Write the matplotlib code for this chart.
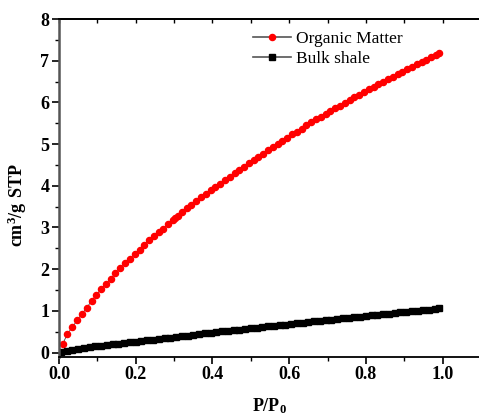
import matplotlib
matplotlib.use('Agg')
import matplotlib.pyplot as plt
from matplotlib.ticker import MultipleLocator

plt.rcParams['font.family'] = ['Liberation Serif', 'DejaVu Serif']
plt.rcParams['mathtext.fontset'] = 'custom'
plt.rcParams['mathtext.rm'] = 'Liberation Serif'
plt.rcParams['mathtext.bf'] = 'Liberation Serif:bold'

# Organic matter isotherm
om_p = [0.010, 0.022, 0.035, 0.047, 0.060, 0.072, 0.085, 0.097, 0.110, 0.122,
        0.135, 0.147, 0.160, 0.172, 0.185, 0.197, 0.210, 0.222, 0.235, 0.247,
        0.260, 0.272, 0.285, 0.297, 0.302, 0.309, 0.320, 0.3325, 0.345, 0.3575,
        0.370, 0.3825, 0.395, 0.4075, 0.420, 0.4325, 0.445, 0.4575, 0.470, 0.4825,
        0.495, 0.5075, 0.520, 0.5325, 0.545, 0.5575, 0.570, 0.5825, 0.595, 0.6075,
        0.620, 0.6325, 0.645, 0.6575, 0.670, 0.6825, 0.695, 0.7075, 0.720, 0.7325,
        0.745, 0.7575, 0.770, 0.7825, 0.795, 0.8075, 0.820, 0.8325, 0.845, 0.8575,
        0.870, 0.8825, 0.895, 0.9075, 0.920, 0.9325, 0.945, 0.9575, 0.970, 0.9825,
        0.990]
om_v = [0.21, 0.45, 0.61, 0.77, 0.93, 1.07, 1.24, 1.38, 1.52, 1.65,
        1.77, 1.90, 2.02, 2.14, 2.25, 2.37, 2.47, 2.58, 2.69, 2.80,
        2.89, 2.97, 3.08, 3.18, 3.23, 3.28, 3.37, 3.46, 3.55, 3.63,
        3.72, 3.80, 3.89, 3.97, 4.05, 4.14, 4.22, 4.30, 4.38, 4.46,
        4.54, 4.62, 4.70, 4.77, 4.85, 4.92, 5.00, 5.08, 5.15, 5.23,
        5.30, 5.37, 5.45, 5.52, 5.59, 5.66, 5.73, 5.79, 5.86, 5.92,
        5.99, 6.05, 6.12, 6.18, 6.25, 6.31, 6.38, 6.44, 6.50, 6.56,
        6.62, 6.68, 6.74, 6.80, 6.85, 6.91, 6.97, 7.02, 7.08, 7.14,
        7.19]

# Bulk shale isotherm
bs_p = [0.005, 0.020, 0.035, 0.050, 0.065, 0.080, 0.095, 0.110, 0.125, 0.140,
        0.155, 0.170, 0.185, 0.200, 0.215, 0.230, 0.245, 0.260, 0.275, 0.290,
        0.305, 0.320, 0.335, 0.350, 0.365, 0.380, 0.395, 0.410, 0.425, 0.440,
        0.455, 0.470, 0.485, 0.500, 0.515, 0.530, 0.545, 0.560, 0.575, 0.590,
        0.605, 0.620, 0.635, 0.650, 0.665, 0.680, 0.695, 0.710, 0.725, 0.740,
        0.755, 0.770, 0.785, 0.800, 0.815, 0.830, 0.845, 0.860, 0.875, 0.890,
        0.905, 0.920, 0.935, 0.950, 0.965, 0.980, 0.990]
bs_v = [0.020, 0.045, 0.065, 0.085, 0.105, 0.125, 0.145, 0.160, 0.180, 0.195,
        0.210, 0.230, 0.245, 0.260, 0.277, 0.293, 0.310, 0.326, 0.343, 0.360,
        0.375, 0.392, 0.408, 0.425, 0.440, 0.458, 0.475, 0.490, 0.505, 0.520,
        0.535, 0.550, 0.565, 0.580, 0.595, 0.610, 0.625, 0.640, 0.655, 0.670,
        0.685, 0.700, 0.715, 0.730, 0.745, 0.760, 0.775, 0.790, 0.804, 0.818,
        0.832, 0.847, 0.861, 0.875, 0.890, 0.904, 0.918, 0.932, 0.947, 0.961,
        0.975, 0.990, 1.004, 1.018, 1.032, 1.047, 1.060]

fig = plt.figure(figsize=(4.79, 4.17), dpi=100)
ax = fig.add_axes([59/479, 60.3/417, 422/479, 337.7/417])

ax.plot(om_p, om_v, '-o', c='#404040', lw=0.6, mfc='red', mec='red', ms=4.4,
        label='Organic Matter')
ax.plot(bs_p, bs_v, '-s', c='#202020', lw=0.6, mfc='black', mec='black', ms=3.8,
        label='Bulk shale')

ax.set_xlim(0, 1.1)
ax.set_ylim(-0.1, 8)
ax.xaxis.set_major_locator(MultipleLocator(0.2))
ax.xaxis.set_minor_locator(MultipleLocator(0.1))
ax.yaxis.set_major_locator(MultipleLocator(1))
ax.yaxis.set_minor_locator(MultipleLocator(0.5))
ax.set_xticks([0.0, 0.2, 0.4, 0.6, 0.8, 1.0])
ax.set_xticklabels(['0.0', '0.2', '0.4', '0.6', '0.8', '1.0'])

ax.tick_params(axis='both', which='major', direction='out', length=5, width=1.2,
               labelsize=13, pad=2)
ax.tick_params(axis='both', which='minor', direction='out', length=3, width=1.0)
for lab in ax.get_xticklabels() + ax.get_yticklabels():
    lab.set_fontweight('bold')

# top axis: ticks pointing inward, no labels
top = ax.secondary_xaxis('top')
top.xaxis.set_major_locator(MultipleLocator(0.1))
top.tick_params(direction='in', length=3, width=1.0, labeltop=False)
top.spines['top'].set_linewidth(1.3)

ax.spines['left'].set_color('#555555')
ax.spines['left'].set_linewidth(1.8)
ax.spines['bottom'].set_linewidth(1.3)
ax.spines['top'].set_linewidth(1.3)
ax.spines['right'].set_visible(False)

ax.set_xlabel(r'$\mathbf{P/P_0}$', fontsize=13, labelpad=9)
ax.set_ylabel(r'$\mathbf{cm^3/g\ STP}$', fontsize=13)
ax.yaxis.set_label_coords(-0.072, 0.45)

leg = ax.legend(loc='upper left', bbox_to_anchor=(0.43, 1.0), frameon=False,
                fontsize=12.5, handlelength=2.2, handletextpad=0.3,
                labelspacing=0.2, borderaxespad=0.3)
for h in leg.get_lines():
    h.set_color('#555555')
    h.set_linewidth(1.2)

fig.savefig('out.png', dpi=100)
